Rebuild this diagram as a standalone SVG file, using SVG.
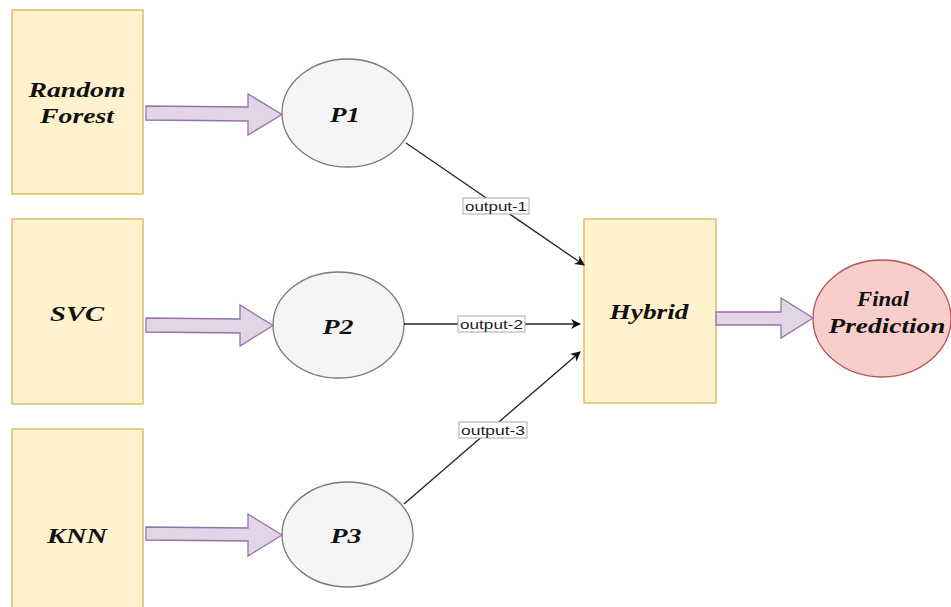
<svg xmlns="http://www.w3.org/2000/svg" width="951" height="607" viewBox="0 0 951 607">
<defs>
<style>
.box{fill:#fff2cc;stroke:#d6b656;stroke-width:1.3}
.pe{fill:#f5f5f5;stroke:#7a7a7a;stroke-width:1.3}
.fe{fill:#f8cecc;stroke:#b85450;stroke-width:1.3}
.fat{fill:#e1d5e7;stroke:#9673a6;stroke-width:1.3}
.t{font-family:"Liberation Serif",serif;font-weight:bold;font-style:italic;font-size:21px;fill:#111;text-anchor:middle}
.edge{stroke:#222;stroke-width:1.3;fill:none}
.lblbox{fill:#fff;stroke:#aaa;stroke-width:1}
.lbl{font-family:"Liberation Sans",Arial,sans-serif;font-size:13.5px;fill:#222;text-anchor:middle}
</style>
<marker id="ah" viewBox="0 0 10 10" refX="9" refY="5" markerWidth="10" markerHeight="10" markerUnits="userSpaceOnUse" orient="auto">
<path d="M0,0 L10,5 L0,10 L3,5 Z" fill="#111"/>
</marker>
</defs>
<rect width="951" height="607" fill="#fff"/>
<g id="rf"><rect class="box" x="12" y="10" width="131" height="184"/>
<text class="t" x="77" y="97" textLength="97" lengthAdjust="spacingAndGlyphs">Random</text>
<text class="t" x="77" y="123" textLength="74" lengthAdjust="spacingAndGlyphs">Forest</text></g>
<g id="svc"><rect class="box" x="12" y="219" width="131" height="185"/>
<text class="t" x="77" y="321" textLength="54" lengthAdjust="spacingAndGlyphs">SVC</text></g>
<g id="knn"><rect class="box" x="12" y="429" width="131" height="185"/>
<text class="t" x="77" y="543" textLength="60" lengthAdjust="spacingAndGlyphs">KNN</text></g>
<g id="p1"><ellipse class="pe" cx="347.5" cy="113" rx="65.5" ry="54"/>
<text class="t" x="345" y="122" textLength="30" lengthAdjust="spacingAndGlyphs">P1</text></g>
<g id="p2"><ellipse class="pe" cx="338.5" cy="325" rx="65.5" ry="53"/>
<text class="t" x="338" y="334" textLength="31" lengthAdjust="spacingAndGlyphs">P2</text></g>
<g id="p3"><ellipse class="pe" cx="347.5" cy="534.5" rx="65.5" ry="52.5"/>
<text class="t" x="346" y="543" textLength="31" lengthAdjust="spacingAndGlyphs">P3</text></g>
<g id="hybrid"><rect class="box" x="584" y="219" width="132" height="184"/>
<text class="t" x="649" y="319" textLength="79" lengthAdjust="spacingAndGlyphs">Hybrid</text></g>
<g id="final"><ellipse class="fe" cx="882" cy="318.5" rx="69" ry="58.5"/>
<text class="t" x="883" y="306" textLength="52" lengthAdjust="spacingAndGlyphs">Final</text>
<text class="t" x="887" y="333" textLength="117" lengthAdjust="spacingAndGlyphs">Prediction</text></g>
<g id="connectors">
<path class="fat" d="M146,106 L248,107 L248,94 L282,114.5 L248,135 L248,121 L146,120 Z"/>
<path class="fat" d="M146,318 L240,319 L240,305 L273,325.5 L240,346 L240,333 L146,332 Z"/>
<path class="fat" d="M146,527 L248,528 L248,514 L282,535 L248,556 L248,541 L146,540 Z"/>
<path class="fat" d="M716,312 L781,312 L781,298 L813,318 L781,338 L781,325 L716,325 Z"/>
<line class="edge" x1="406" y1="143" x2="584" y2="265" marker-end="url(#ah)"/>
<line class="edge" x1="404" y1="324" x2="580" y2="324" marker-end="url(#ah)"/>
<line class="edge" x1="404" y1="504" x2="580" y2="352" marker-end="url(#ah)"/>
<rect class="lblbox" x="463" y="198" width="66" height="16"/>
<text class="lbl" x="496" y="211" textLength="62" lengthAdjust="spacingAndGlyphs">output-1</text>
<rect class="lblbox" x="458" y="316" width="67" height="16"/>
<text class="lbl" x="491.5" y="329" textLength="63" lengthAdjust="spacingAndGlyphs">output-2</text>
<rect class="lblbox" x="459" y="422" width="68" height="16"/>
<text class="lbl" x="493" y="435" textLength="64" lengthAdjust="spacingAndGlyphs">output-3</text>
</g>
</svg>
